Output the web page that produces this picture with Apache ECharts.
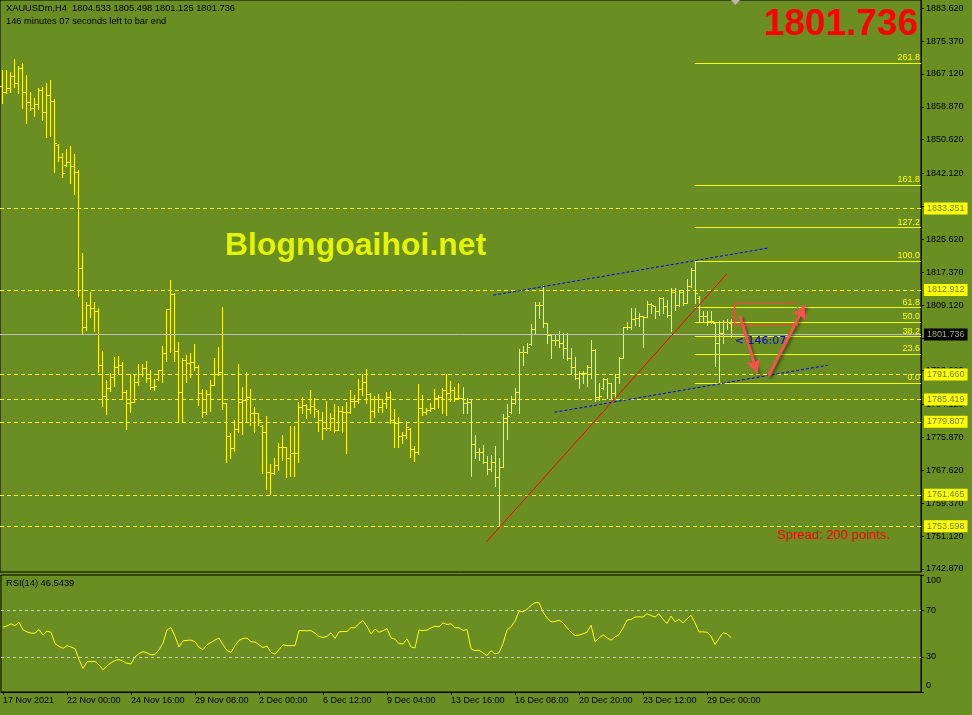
<!DOCTYPE html>
<html><head><meta charset="utf-8">
<script src="https://cdn.jsdelivr.net/npm/echarts@6/dist/echarts.min.js"></script>
<style>html,body{margin:0;padding:0;background:#6b8e23}#c{width:972px;height:715px}</style>
</head><body><div id="c"></div><script>
// ---------------- DATA ----------------
const OPEN = [
1864.0,1862.7,1863.7,1866.6,1864.8,1868.6,1862.7,1860.0,1858.7,1859.6,
1863.1,1857.6,1861.9,1860.3,1849.3,1846.2,1844.2,1845.0,1844.0,1842.4,
1818.3,1803.7,1809.1,1808.3,1807.6,1794.0,1786.3,1788.2,1791.0,1793.6,
1794.0,1787.2,1784.4,1784.7,1789.7,1791.9,1793.2,1790.7,1788.5,1790.5,
1792.7,1797.0,1808.0,1811.8,1797.5,1787.4,1795.3,1794.5,1794.7,1793.5,
1787.0,1782.3,1786.7,1789.0,1791.7,1792.4,1784.4,1776.2,1773.1,1777.9,
1784.8,1785.2,1786.0,1782.1,1781.9,1778.8,1777.2,1767.3,1767.0,1769.0,
1773.5,1773.5,1770.8,1772.0,1771.9,1783.5,1784.0,1783.0,1783.8,1782.6,
1780.3,1778.2,1778.3,1780.8,1777.7,1782.5,1782.3,1782.3,1785.0,1784.9,
1788.0,1789.7,1786.7,1782.5,1785.5,1783.4,1784.4,1786.1,1780.3,1779.4,
1776.2,1776.5,1778.0,1772.9,1772.1,1783.2,1782.2,1782.8,1783.2,1785.9,
1786.1,1787.8,1787.0,1787.8,1785.7,1785.7,1784.6,1784.7,1774.2,1772.1,
1772.3,1769.8,1767.9,1769.8,1766.0,1768.4,1780.8,1782.3,1784.5,1787.2,
1797.3,1797.3,1799.3,1803.0,1809.1,1809.1,1804.7,1801.6,1800.3,1800.3,
1799.5,1798.3,1795.7,1793.6,1790.7,1792.0,1792.0,1793.5,1797.8,1786.1,
1788.2,1790.5,1789.5,1787.0,1791.0,1795.7,1803.7,1803.5,1805.6,1805.8,
1806.4,1806.2,1809.4,1808.8,1807.5,1810.8,1808.9,1806.6,1812.5,1809.1,
1812.5,1809.6,1813.9,1817.9,1811.0,1806.4,1806.4,1805.1,1804.5,1799.6,
1802.1,1804.9,1804.533];
const HIGH = [
1868.1,1868.1,1867.6,1870.9,1869.1,1870.0,1866.9,1862.6,1861.1,1863.6,
1863.9,1864.9,1865.6,1860.9,1849.5,1847.2,1848.3,1849.0,1847.0,1843.0,
1822.1,1809.9,1812.4,1809.9,1808.3,1797.7,1790.3,1792.0,1796.1,1796.3,
1794.8,1787.8,1791.7,1791.7,1794.3,1794.3,1795.1,1792.8,1790.5,1792.8,
1798.8,1808.1,1815.4,1812.1,1799.8,1795.7,1796.6,1797.0,1799.3,1794.0,
1788.0,1787.8,1790.3,1795.7,1798.5,1808.6,1784.6,1776.9,1780.2,1794.3,
1788.5,1792.2,1788.0,1783.5,1781.9,1779.0,1781.3,1769.2,1770.6,1774.5,
1776.5,1773.5,1778.7,1778.7,1784.7,1786.0,1784.3,1787.8,1785.7,1782.8,
1782.2,1785.1,1782.0,1784.3,1783.8,1783.8,1784.8,1787.8,1786.5,1790.5,
1791.7,1793.1,1787.0,1786.4,1786.7,1785.5,1787.4,1787.5,1783.0,1781.1,
1777.2,1779.9,1778.2,1773.6,1789.3,1786.5,1783.2,1784.4,1788.0,1786.5,
1788.4,1791.7,1790.0,1788.5,1789.5,1788.5,1785.7,1785.5,1776.5,1773.2,
1774.0,1771.1,1771.5,1773.7,1770.6,1781.7,1784.3,1786.3,1788.4,1798.1,
1798.9,1799.5,1804.4,1809.8,1809.8,1814.1,1804.7,1801.6,1801.8,1802.6,
1802.0,1802.0,1798.3,1796.0,1792.6,1792.6,1794.1,1800.3,1798.1,1789.5,
1790.7,1790.7,1789.5,1791.8,1796.0,1803.7,1804.9,1808.3,1808.3,1807.0,
1806.4,1810.1,1809.6,1808.9,1811.2,1811.2,1810.4,1813.3,1813.3,1812.9,
1812.9,1815.6,1818.3,1820.2,1811.4,1807.5,1807.5,1807.5,1804.5,1805.0,
1805.4,1805.5,1805.498];
const LOW = [
1859.9,1862.3,1862.6,1863.9,1862.3,1858.7,1854.9,1858.1,1856.6,1858.4,
1855.6,1851.4,1851.6,1842.6,1845.4,1841.3,1843.9,1839.8,1837.0,1811.5,
1802.2,1802.9,1806.2,1802.7,1792.4,1783.8,1781.8,1787.6,1788.8,1791.7,
1785.4,1778.1,1782.3,1784.7,1789.0,1791.2,1789.8,1788.0,1787.8,1790.3,
1789.9,1795.1,1797.4,1795.1,1779.9,1779.9,1789.9,1791.0,1792.8,1784.0,
1781.1,1781.7,1782.5,1789.0,1791.6,1783.0,1769.8,1770.8,1772.5,1777.2,
1776.7,1780.1,1779.1,1777.3,1779.1,1767.0,1762.9,1761.6,1766.6,1767.6,
1770.1,1766.0,1766.2,1766.2,1769.8,1782.1,1780.7,1781.9,1781.1,1777.6,
1775.6,1777.7,1777.7,1777.3,1777.7,1777.3,1771.9,1781.9,1783.6,1784.4,
1786.5,1784.4,1779.7,1781.1,1782.2,1782.2,1783.2,1779.4,1773.5,1773.4,
1774.6,1775.7,1771.0,1770.0,1771.7,1781.5,1781.8,1782.6,1783.0,1783.2,
1781.9,1781.5,1784.9,1784.9,1785.5,1781.9,1781.9,1766.3,1770.8,1770.2,
1769.4,1766.6,1767.5,1763.8,1753.6,1768.4,1775.4,1782.1,1784.3,1782.1,
1794.1,1797.0,1799.1,1802.0,1805.8,1803.7,1799.7,1795.7,1799.1,1798.7,
1795.7,1795.3,1791.8,1790.5,1788.4,1789.6,1788.8,1790.7,1784.9,1785.3,
1788.0,1785.7,1785.9,1785.9,1789.5,1795.7,1803.0,1803.0,1804.1,1803.8,
1798.5,1806.2,1807.0,1805.8,1806.6,1807.2,1806.2,1802.7,1807.9,1808.9,
1809.1,1809.6,1813.7,1809.6,1805.0,1805.0,1804.1,1804.7,1793.8,1789.5,
1799.5,1803.0,1801.125];
const CLOSE = [
1862.7,1863.7,1866.6,1864.8,1868.6,1862.7,1860.0,1858.7,1859.6,1863.1,
1857.6,1861.9,1860.3,1849.7,1846.2,1842.2,1845.0,1844.0,1842.4,1818.3,
1803.7,1809.1,1808.3,1807.6,1794.0,1786.3,1788.2,1791.0,1793.6,1794.0,
1787.2,1784.4,1784.7,1789.7,1791.9,1793.2,1790.7,1788.5,1788.8,1792.7,
1797.0,1808.0,1811.8,1797.5,1787.4,1795.3,1794.5,1794.7,1793.5,1787.0,
1782.3,1786.7,1789.0,1791.7,1792.4,1784.4,1776.2,1773.1,1777.9,1784.8,
1785.2,1786.0,1782.1,1781.9,1780.3,1777.2,1767.3,1767.0,1769.0,1773.5,
1773.5,1770.8,1772.0,1771.9,1783.5,1784.0,1783.0,1783.8,1783.0,1780.3,
1778.2,1778.3,1780.8,1777.7,1782.5,1782.3,1782.3,1785.0,1784.9,1788.0,
1789.7,1786.7,1782.5,1785.5,1783.4,1784.4,1786.1,1780.3,1779.4,1776.2,
1776.5,1778.6,1772.9,1772.1,1783.2,1782.2,1782.8,1783.2,1785.9,1786.1,
1787.8,1787.0,1787.8,1785.7,1785.7,1784.6,1784.7,1774.2,1772.1,1772.3,
1769.8,1767.9,1769.8,1766.0,1768.4,1780.8,1781.3,1784.5,1787.2,1797.3,
1797.3,1798.7,1803.0,1809.1,1809.1,1804.7,1801.6,1800.3,1800.3,1799.5,
1798.3,1795.7,1793.6,1790.7,1792.0,1792.0,1793.5,1797.8,1786.1,1786.4,
1790.5,1789.5,1787.0,1791.0,1795.7,1803.7,1803.5,1805.6,1805.8,1806.4,
1806.2,1809.4,1809.1,1807.5,1810.8,1808.9,1806.6,1812.5,1809.1,1812.5,
1809.6,1813.9,1817.9,1812.1,1806.4,1806.4,1805.1,1805.1,1799.6,1802.1,
1804.9,1804.9,1801.736];
const RSI = [
55.4,56.5,58.2,56.8,59.6,53.1,51.4,50.3,50.3,53.4,
48.6,52.0,51.1,41.3,39.0,37.3,39.6,38.5,37.0,27.7,
20.1,25.8,26.1,26.1,23.2,19.0,22.4,24.9,26.9,27.7,
26.3,24.4,24.1,30.0,32.8,34.5,33.4,31.7,32.0,36.2,
41.8,53.1,55.1,47.5,38.5,43.8,44.1,44.4,43.0,38.2,
36.2,40.4,42.4,44.4,46.1,40.4,35.4,33.9,39.6,44.1,
45.8,46.1,43.0,42.7,40.4,37.9,39.3,33.9,32.3,36.2,
40.4,39.6,39.6,39.6,52.5,52.5,52.3,52.5,50.3,47.5,
46.6,47.5,50.6,45.8,51.4,51.7,51.7,55.1,54.8,58.7,
61.0,55.9,49.7,53.7,51.1,52.3,54.2,46.3,45.2,41.3,
41.1,45.4,38.6,37.7,52.9,52.6,52.9,54.8,56.3,55.7,
59.1,57.7,58.3,54.9,54.9,52.6,53.4,36.9,35.4,35.7,
33.4,31.1,35.4,32.5,33.5,41.4,52.9,55.7,60.6,69.1,
68.6,70.6,74.0,76.3,76.3,68.3,63.4,60.0,60.3,61.4,
59.1,54.9,51.1,48.3,48.6,49.7,51.1,57.1,43.1,46.0,
48.9,46.3,44.3,47.0,49.1,54.6,61.4,62.0,64.0,64.3,
64.0,66.9,65.4,64.0,66.9,62.0,58.6,64.9,60.0,62.0,
59.1,62.5,65.7,59.1,51.4,51.4,51.1,47.7,40.6,45.7,
50.6,49.7,46.5439];

const X_TICK_INDEX = [0,16,32,48,64,80,96,112,128,144,160,176];
const X_TICK_LABELS = ['17 Nov 2021','22 Nov 00:00','24 Nov 16:00','29 Nov 08:00','2 Dec 00:00','6 Dec 12:00',
  '9 Dec 04:00','13 Dec 16:00','16 Dec 08:00','20 Dec 20:00','23 Dec 12:00','29 Dec 00:00'];
const PRICE_TICKS = [1883.62,1875.37,1867.12,1858.87,1850.62,1842.12,1833.87,1825.62,1817.37,1809.12,
  1800.87,1792.62,1784.12,1775.87,1767.62,1759.37,1751.12,1742.87];
const RSI_TICKS = [0,30,70,100];
const RSI_LEVELS = [70,30];
const LEVELS = [1833.351,1812.912,1791.660,1785.419,1779.807,1761.465,1753.598];
const BID = 1801.736;
const FIB_NAMES = ['0.0','23.6','38.2','50.0','61.8','100.0','127.2','161.8','261.8'];
const FIB_PRICES = [1789.47,1796.72,1801.21,1804.84,1808.46,1820.20,1828.56,1839.19,1869.92];
const FIB_START = 173;
const BLUE_UPPER = [[122.7,1811.6],[191.2,1823.4]];
const BLUE_LOWER = [[138.0,1782.2],[206.2,1794.0]];
const RED_TREND = [[121.0,1749.7],[181.0,1816.9]];
const ARROW_DOWN = [[184.3,1806.4],[188.6,1792.0]];
const ARROW_UP = [[191.4,1791.3],[200.5,1809.1]];
const BOX = [182.8,1809.55,198.6,1804.03];
const TIMER_POS = [183.0,1800.1];

// ---------------- CHART ----------------
const FONT = 'Liberation Sans';
const SLOT_MAX = 229.5;
const chart = echarts.init(document.getElementById('c'), null, {renderer:'canvas'});

const ohlcData = OPEN.map((o,i)=>[i,o,HIGH[i],LOW[i],CLOSE[i]]);
const rsiData = RSI.map((v,i)=>[i,v]);

function renderOHLC(params, api){
  const i = api.value(0);
  const o = api.coord([i, api.value(1)]);
  const h = api.coord([i, api.value(2)]);
  const l = api.coord([i, api.value(3)]);
  const c = api.coord([i, api.value(4)]);
  const px = Math.round(h[0]);
  const st = {stroke:'#ffff00', lineWidth:1};
  const oy = Math.round(o[1]) + 0.5, cy = Math.round(c[1]) + 0.5;
  return {type:'group', children:[
    {type:'line', shape:{x1:px+0.5, y1:Math.round(h[1]), x2:px+0.5, y2:Math.round(l[1])+1}, style:st},
    {type:'line', shape:{x1:px-2, y1:oy, x2:px, y2:oy}, style:st},
    {type:'line', shape:{x1:px+1, y1:cy, x2:px+3, y2:cy}, style:st}
  ]};
}

function renderBox(params, api){
  const a = api.coord([api.value(0), api.value(1)]);
  const b = api.coord([api.value(2), api.value(3)]);
  const x = Math.round(a[0]) + 0.5, y = Math.round(a[1]) + 0.5;
  return {type:'rect', shape:{x:x, y:y, width:Math.round(b[0]-a[0]), height:Math.round(b[1]-a[1])},
    style:{fill:'none', stroke:'#ff4040', lineWidth:1}};
}

const seg = (p, extra) => [Object.assign({coord:p[0]}, extra||{}), {coord:p[1]}];

const option = {
  animation:false,
  backgroundColor:'#6b8e23',
  grid:[
    {left:0, right:51, top:0, height:572, show:true, borderColor:'#000', borderWidth:1, backgroundColor:'transparent'},
    {left:0, right:51, top:575, height:117, show:true, borderColor:'#000', borderWidth:1, backgroundColor:'transparent'}
  ],
  xAxis:[
    {type:'value', gridIndex:0, min:-0.5, max:SLOT_MAX, show:false},
    {type:'value', gridIndex:1, min:-0.5, max:SLOT_MAX,
     axisLine:{show:true, onZero:false, lineStyle:{color:'#000', width:1}},
     axisTick:{show:true, length:3, customValues:X_TICK_INDEX, lineStyle:{color:'#000'}},
     axisLabel:{show:true, customValues:X_TICK_INDEX, align:'left', margin:4, color:'#000', fontFamily:FONT, fontSize:9,
       formatter:(v)=>X_TICK_LABELS[X_TICK_INDEX.indexOf(Math.round(v))] || ''},
     splitLine:{show:false}}
  ],
  yAxis:[
    {type:'value', gridIndex:0, position:'right', min:1742.09, max:1885.70, scale:true,
     axisLine:{show:true, onZero:false, lineStyle:{color:'#000'}},
     axisTick:{show:true, length:3, customValues:PRICE_TICKS, lineStyle:{color:'#000'}},
     axisLabel:{show:true, customValues:PRICE_TICKS, margin:5, color:'#000', fontFamily:FONT, fontSize:9,
       formatter:(v)=>v.toFixed(3)},
     splitLine:{show:false}},
    {type:'value', gridIndex:1, position:'right', min:0, max:100,
     axisLine:{show:true, onZero:false, lineStyle:{color:'#000'}},
     axisTick:{show:true, length:3, customValues:RSI_TICKS, lineStyle:{color:'#000'}},
     axisLabel:{show:true, customValues:RSI_TICKS, margin:5, color:'#000', fontFamily:FONT, fontSize:9,
       formatter:(v)=> v===100 ? '{t|100}' : (v===0 ? '{b|0}' : '{m|'+v+'}'),
       rich:{t:{padding:[11,0,0,0], fontFamily:FONT, fontSize:9, color:'#000'},
             b:{padding:[0,0,13,0], fontFamily:FONT, fontSize:9, color:'#000'},
             m:{fontFamily:FONT, fontSize:9, color:'#000'}}},
     splitLine:{show:false}}
  ],
  series:[
    // horizontal support/resistance levels
    {type:'line', xAxisIndex:0, yAxisIndex:0, data:[], silent:true,
     markLine:{silent:true, symbol:'none', animation:false, precision:3,
       lineStyle:{color:'#ffff00', type:[4,3], width:1},
       label:{show:true, position:'end', distance:3, formatter:'{b}',
         backgroundColor:'#ffff00', color:'#6e7f35', fontFamily:FONT, fontSize:9, padding:[2,3,1,3]},
       data:LEVELS.map(v=>({name:v.toFixed(3), yAxis:v}))}},
    // fibonacci
    {type:'line', xAxisIndex:0, yAxisIndex:0, data:[], silent:true,
     markLine:{silent:true, symbol:'none', animation:false,
       lineStyle:{color:'#ffff00', type:'solid', width:1},
       label:{show:true, position:'insideEndTop', distance:1, formatter:'{b}', color:'#ffff00', fontFamily:FONT, fontSize:9},
       data:FIB_PRICES.map((p,k)=>[{name:FIB_NAMES[k], coord:[FIB_START,p]},{coord:[SLOT_MAX,p]}])}},
    // bid line
    {type:'line', xAxisIndex:0, yAxisIndex:0, data:[], silent:true,
     markLine:{silent:true, symbol:'none', animation:false, precision:3,
       lineStyle:{color:'#c0c0c0', type:'solid', width:1},
       label:{show:true, position:'end', distance:3, formatter:'{b}',
         backgroundColor:'#000', color:'#a4ad80', fontFamily:FONT, fontSize:9, padding:[2,3,1,3]},
       data:[{name:BID.toFixed(3), yAxis:BID}]}},
    // trend lines
    {type:'line', xAxisIndex:0, yAxisIndex:0, data:[], silent:true, z:4,
     markLine:{silent:true, symbol:'none', animation:false, label:{show:false},
       data:[
         seg(BLUE_UPPER,{lineStyle:{color:'#0000ff', type:[3,2], width:1}}),
         seg(BLUE_LOWER,{lineStyle:{color:'#0000ff', type:[3,2], width:1}}),
         seg(RED_TREND,{lineStyle:{color:'#ff0000', type:'solid', width:1}})
       ]}},
    // OHLC bars
    {type:'custom', xAxisIndex:0, yAxisIndex:0, renderItem:renderOHLC, data:ohlcData,
     encode:{x:0, y:[1,2,3,4]}, silent:true, z:3},
    // rectangle
    {type:'custom', xAxisIndex:0, yAxisIndex:0, renderItem:renderBox, data:[BOX],
     encode:{x:[0,2], y:[1,3]}, silent:true, z:5},
    // arrows, timer text
    {type:'line', xAxisIndex:0, yAxisIndex:0, data:[], silent:true, z:6,
     markLine:{silent:true, symbol:['none','arrow'], symbolSize:[11,14], animation:false, label:{show:false},
       lineStyle:{color:'rgba(255,80,80,0.95)', type:'solid', width:3, shadowBlur:3, shadowColor:'rgba(0,0,0,0.45)', shadowOffsetX:2, shadowOffsetY:2},
       data:[seg(ARROW_DOWN), seg(ARROW_UP)]},
     markPoint:{silent:true, symbol:'circle', symbolSize:0,
       data:[{coord:TIMER_POS, label:{show:true, formatter:'< 146:07', position:'right', distance:0,
         color:'#0000ee', fontFamily:'DejaVu Sans', fontSize:11}}]}},
    // RSI
    {type:'line', xAxisIndex:1, yAxisIndex:1, data:rsiData, showSymbol:false, silent:true,
     lineStyle:{color:'#ffff00', width:1}, z:3,
     markLine:{silent:true, symbol:'none', animation:false, label:{show:false},
       lineStyle:{color:'#c8c8c8', type:[3,3], width:1},
       data:RSI_LEVELS.map(v=>({yAxis:v}))}}
  ],
  graphic:[
    {type:'text', left:6, top:4, style:{text:'XAUUSDm,H4  1804.533 1805.498 1801.125 1801.736', font:'9.3px "Liberation Sans"', fill:'#000'}},
    {type:'text', left:6, top:17, style:{text:'146 minutes 07 seconds left to bar end', font:'9.3px "Liberation Sans"', fill:'#000'}},
    {type:'text', left:6, top:579, style:{text:'RSI(14) 46.5439', font:'9.3px "Liberation Sans"', fill:'#000'}},
    {type:'text', x:225, y:246, style:{text:'Blogngoaihoi.net', font:'bold 32px "Liberation Sans"', fill:'#e4f500', align:'left', verticalAlign:'middle'}},
    {type:'text', x:918, y:25, style:{text:'1801.736', font:'bold 37px "Liberation Sans"', fill:'#ff0000', align:'right', verticalAlign:'middle'}},
    {type:'text', x:777, y:535, style:{text:'Spread: 200 points.', font:'13px "Liberation Sans"', fill:'#ff0000', align:'left', verticalAlign:'middle'}},
    {type:'polygon', shape:{points:[[731,0],[740,0],[735.5,5]]}, style:{fill:'#b8b8b8'}}
  ]
};
chart.setOption(option);
</script></body></html>
